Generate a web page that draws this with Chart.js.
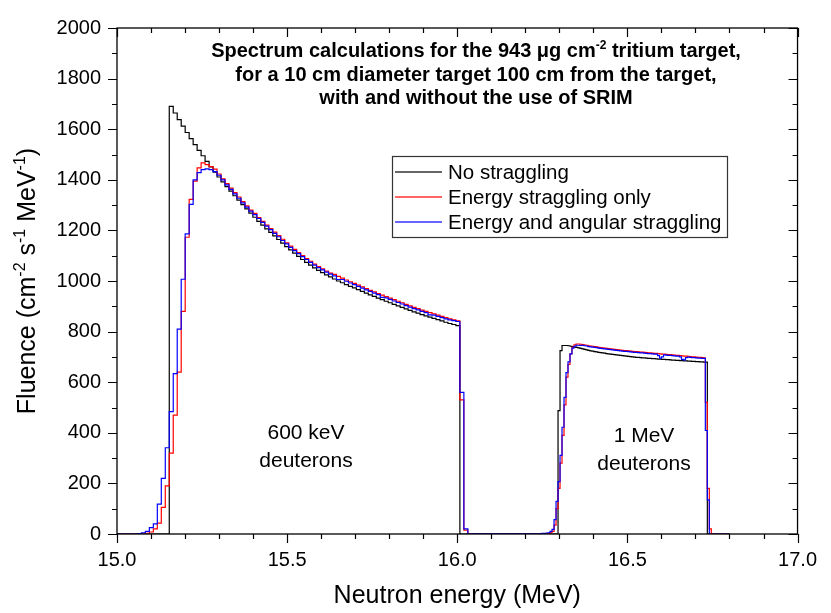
<!DOCTYPE html>
<html>
<head>
<meta charset="utf-8">
<script src="https://cdn.jsdelivr.net/npm/chart.js@4/dist/chart.umd.min.js"></script>
<style>
  html, body { margin: 0; padding: 0; background: #ffffff; }
  #wrap { width: 831px; height: 613px; }
</style>
</head>
<body>
<div id="wrap"><canvas id="chart" width="831" height="613"></canvas></div>
<script>
// Histogram bins: two energy windows (600 keV and 1 MeV deuteron groups)
const lowStart = 15.06;
const lowBinWidth = 0.0117;
const highStart = 16.2435;
const highBinWidth = 0.00585;
const rangeStart = 15.0;
const rangeEnd = 16.8;

// Fluence per bin (cm^-2 s^-1 MeV^-1), 600 keV deuterons
const noStragglingLow = [
  0,0,0,0,0,0,0,0,0,
  1690,1664,1638,1612,1587,1563,1539,1516,1495,1473,1451,
  1430,1411,1392,1373,1355,1337,1320,1302,1285,1268,
  1252,1236,1221,1206,1192,1178,1164,1150,1136,1123,
  1110,1097,1085,1074,1063,1052,1042,1033,1024,1016,
  1008,1000,993,986,979,973,966,959,952,945,
  939,932,926,920,914,908,902,896,890,884,
  878,873,867,862,857,852,847,842,837,832,
  828,824,0,0,0
];
const energyStragglingLow = [
  0,0,0,3,8,20,43,105,190,320,470,640,880,1173,1323,1395,1447,1467,1460,1452,
  1442,1423,1404,1385,1367,1349,1332,1314,1297,1280,
  1267,1251,1236,1221,1207,1193,1179,1165,1151,1138,
  1125,1112,1100,1089,1078,1067,1057,1048,1039,1031,
  1026,1018,1011,1004,997,991,984,977,970,963,
  957,950,944,938,932,926,920,914,908,902,
  896,891,885,880,875,870,865,860,855,850,
  846,842,530,15,0
];
const angularStragglingLow = [
  0,2,5,10,25,40,118,220,341,484,634,810,1007,1186,1303,1400,1428,1440,1443,1440,
  1432,1418,1400,1380,1362,1344,1327,1309,1292,1276,
  1262,1247,1232,1217,1203,1188,1175,1160,1147,1133,
  1120,1108,1096,1085,1074,1063,1053,1044,1035,1027,
  1020,1006,1006,999,992,986,979,972,965,959,
  952,946,935,933,927,921,915,909,903,897,
  891,886,880,875,866,865,860,855,850,846,
  843,840,560,20,0
];

// Fluence per bin, 1 MeV deuterons
const noStragglingHigh = [
  0,0,0,0,0,0,0,0,0,0,
  488,725,745,745,745,744,
  742,741,739,738,736,734,732,730,728,726,
  724,723,721,720,718,717,716,715,713,712,
  711,710,709,708,707,706,705,704,703,702,
  701,700,699,698,698,697,696,696,695,694,
  694,693,693,692,691,691,690,690,689,689,
  688,687,687,686,686,685,685,684,684,683,
  683,682,682,681,681,680,680,679,679,
  0,0,0,0,0,0,0
];
const energyStragglingHigh = [
  0,0,0,0,0,
  2,5,10,35,100,180,280,390,510,620,670,712,738,748,751,751,750,
  749,747,746,744,743,742,741,740,738,737,
  736,735,734,733,732,731,730,729,728,727,
  726,725,725,724,723,722,721,721,720,719,
  719,718,717,716,716,715,714,714,713,712,
  711,711,710,709,709,708,707,706,706,705,
  704,703,703,702,701,700,700,699,698,698,
  697,696,
  520,180,20,0,0,0,0,0
];
const angularStragglingHigh = [
  1,2,3,3,4,5,10,18,57,129,207,311,422,540,638,680,712,735,742,746,746,745,
  746,744,743,741,740,739,738,737,735,734,
  733,732,731,730,729,728,727,726,725,724,
  723,722,722,721,720,719,718,718,717,716,
  716,715,714,713,713,712,711,711,705,695,
  700,708,707,706,706,705,704,703,703,700,
  690,688,697,699,698,697,697,696,695,695,
  694,694,
  409,135,0,0,0,0,0,0
];

const seriesLabels = ['No straggling', 'Energy straggling only', 'Energy and angular straggling'];
const seriesColors = ['#000000', '#ff0000', '#0000ff'];

const xTicks = [15.0, 15.5, 16.0, 16.5, 17.0];
const yTicks = [0, 200, 400, 600, 800, 1000, 1200, 1400, 1600, 1800, 2000];

const FONT = "'Liberation Sans', Arial, sans-serif";
const NARROW = "'Liberation Sans Narrow', 'Liberation Sans', Arial, sans-serif";

// Turn the binned arrays into left-edge step points
function histogramPoints(lowVals, highVals) {
  const pts = [{ x: rangeStart, y: 0 }];
  lowVals.forEach((v, i) => pts.push({ x: lowStart + i * lowBinWidth, y: v }));
  highVals.forEach((v, i) => pts.push({ x: highStart + i * highBinWidth, y: v }));
  pts.push({ x: rangeEnd, y: 0 });
  return pts;
}

// Text with raised superscript pieces
function drawRich(ctx, parts, x, y, size, weight, family, align) {
  const fonts = parts.map(p => `${weight} ${p.sup ? Math.round(size * 0.62) : size}px ${family}`);
  let total = 0;
  const widths = parts.map((p, i) => { ctx.font = fonts[i]; const w = ctx.measureText(p.t).width; total += w; return w; });
  let cx = align === 'center' ? x - total / 2 : x;
  ctx.textAlign = 'left';
  ctx.textBaseline = 'alphabetic';
  parts.forEach((p, i) => {
    ctx.font = fonts[i];
    ctx.fillText(p.t, cx, p.sup ? y - size * 0.42 : y);
    cx += widths[i];
  });
}

const framePlugin = {
  id: 'frameAndText',
  afterDraw(chart) {
    const { ctx, chartArea: a, scales } = chart;
    const xs = scales.x, ys = scales.y;
    ctx.save();
    ctx.strokeStyle = '#000';
    ctx.fillStyle = '#000';
    ctx.lineWidth = 1.3;
    ctx.strokeRect(a.left, a.top, a.right - a.left, a.bottom - a.top);

    // tick marks: outward on bottom/left, inward on top/right
    ctx.lineWidth = 1.2;
    ctx.beginPath();
    for (let i = 0; i <= 20; i++) {
      const px = Math.round(xs.getPixelForValue(xs.min + i * 0.1)) + 0.5;
      const len = i % 5 === 0 ? 9 : 5;
      ctx.moveTo(px, a.bottom); ctx.lineTo(px, a.bottom + len);
      ctx.moveTo(px, a.top); ctx.lineTo(px, a.top + len);
    }
    for (let i = 0; i <= 20; i++) {
      const py = Math.round(ys.getPixelForValue(i * 100)) + 0.5;
      const len = i % 2 === 0 ? 9 : 5;
      ctx.moveTo(a.left, py); ctx.lineTo(a.left - len, py);
      ctx.moveTo(a.right, py); ctx.lineTo(a.right - len, py);
    }
    ctx.stroke();

    // axis titles
    drawRich(ctx, [{ t: 'Neutron energy (MeV)' }], (a.left + a.right) / 2, 603, 25, 'normal', FONT, 'center');
    ctx.save();
    ctx.translate(35, (a.top + a.bottom) / 2);
    ctx.rotate(-Math.PI / 2);
    drawRich(ctx, [
      { t: 'Fluence (cm' }, { t: '-2', sup: true }, { t: ' s' }, { t: '-1', sup: true },
      { t: ' MeV' }, { t: '-1', sup: true }, { t: ')' }
    ], 0, 0, 25, 'normal', FONT, 'center');
    ctx.restore();

    // heading inside the plot
    const hx = 476;
    drawRich(ctx, [
      { t: 'Spectrum calculations for the 943 \u03bcg cm' }, { t: '-2', sup: true }, { t: ' tritium target,' }
    ], hx, 57, 20, 'bold', NARROW, 'center');
    drawRich(ctx, [{ t: 'for a 10 cm diameter target 100 cm from the target,' }], hx, 81, 20, 'bold', NARROW, 'center');
    drawRich(ctx, [{ t: 'with and without the use of SRIM' }], hx, 104, 20, 'bold', NARROW, 'center');

    // group labels
    ctx.font = `21px ${FONT}`;
    ctx.textAlign = 'center';
    ctx.textBaseline = 'middle';
    ctx.fillText('600 keV', 306, 433);
    ctx.fillText('deuterons', 306, 461);
    ctx.fillText('1 MeV', 644, 436);
    ctx.fillText('deuterons', 644, 464);

    // legend box
    const lx = 392, ly = 156, lw = 335, lh = 81;
    ctx.fillStyle = '#fff';
    ctx.fillRect(lx, ly, lw, lh);
    ctx.strokeStyle = '#333';
    ctx.lineWidth = 1.2;
    ctx.strokeRect(lx + 0.5, ly + 0.5, lw, lh);
    ctx.font = `20.5px ${FONT}`;
    ctx.textAlign = 'left';
    ctx.textBaseline = 'middle';
    chart.data.datasets.forEach((ds, i) => {
      const ry = ly + 16 + i * 25;
      ctx.strokeStyle = ds.borderColor;
      ctx.globalAlpha = 0.6;
      ctx.lineWidth = 2;
      ctx.beginPath();
      ctx.moveTo(lx + 3, ry); ctx.lineTo(lx + 50, ry);
      ctx.stroke();
      ctx.globalAlpha = 1;
      ctx.fillStyle = '#000';
      ctx.fillText(ds.label, lx + 56, ry + 1);
    });
    ctx.restore();
  }
};

const datasets = [
  { lows: noStragglingLow, highs: noStragglingHigh, order: 3 },
  { lows: energyStragglingLow, highs: energyStragglingHigh, order: 2 },
  { lows: angularStragglingLow, highs: angularStragglingHigh, order: 1 }
].map((s, i) => ({
  label: seriesLabels[i],
  data: histogramPoints(s.lows, s.highs),
  borderColor: seriesColors[i],
  backgroundColor: seriesColors[i],
  borderWidth: 1.2,
  pointRadius: 0,
  stepped: 'after',
  fill: false,
  order: s.order
}));

new Chart(document.getElementById('chart'), {
  type: 'line',
  data: { datasets },
  options: {
    responsive: false,
    animation: false,
    devicePixelRatio: 1,
    layout: { padding: { top: 24, right: 19, left: 0, bottom: 0 } },
    plugins: { legend: { display: false }, tooltip: { enabled: false } },
    scales: {
      x: {
        type: 'linear',
        min: 15, max: 17,
        grid: { display: false, drawTicks: false },
        border: { display: false },
        afterFit(scale) { scale.height = 79; },
        afterBuildTicks(scale) { scale.ticks = xTicks.map(v => ({ value: v })); },
        ticks: {
          padding: 14,
          color: '#000',
          font: { family: FONT, size: 20 },
          maxRotation: 0,
          callback: v => Number(v).toFixed(1)
        }
      },
      y: {
        type: 'linear',
        min: 0, max: 2000,
        grid: { display: false, drawTicks: false },
        border: { display: false },
        afterFit(scale) { scale.width = 117; },
        afterBuildTicks(scale) { scale.ticks = yTicks.map(v => ({ value: v })); },
        ticks: {
          padding: 16,
          color: '#000',
          font: { family: FONT, size: 20 },
          callback: v => String(v)
        }
      }
    }
  },
  plugins: [framePlugin]
});
</script>
</body>
</html>
